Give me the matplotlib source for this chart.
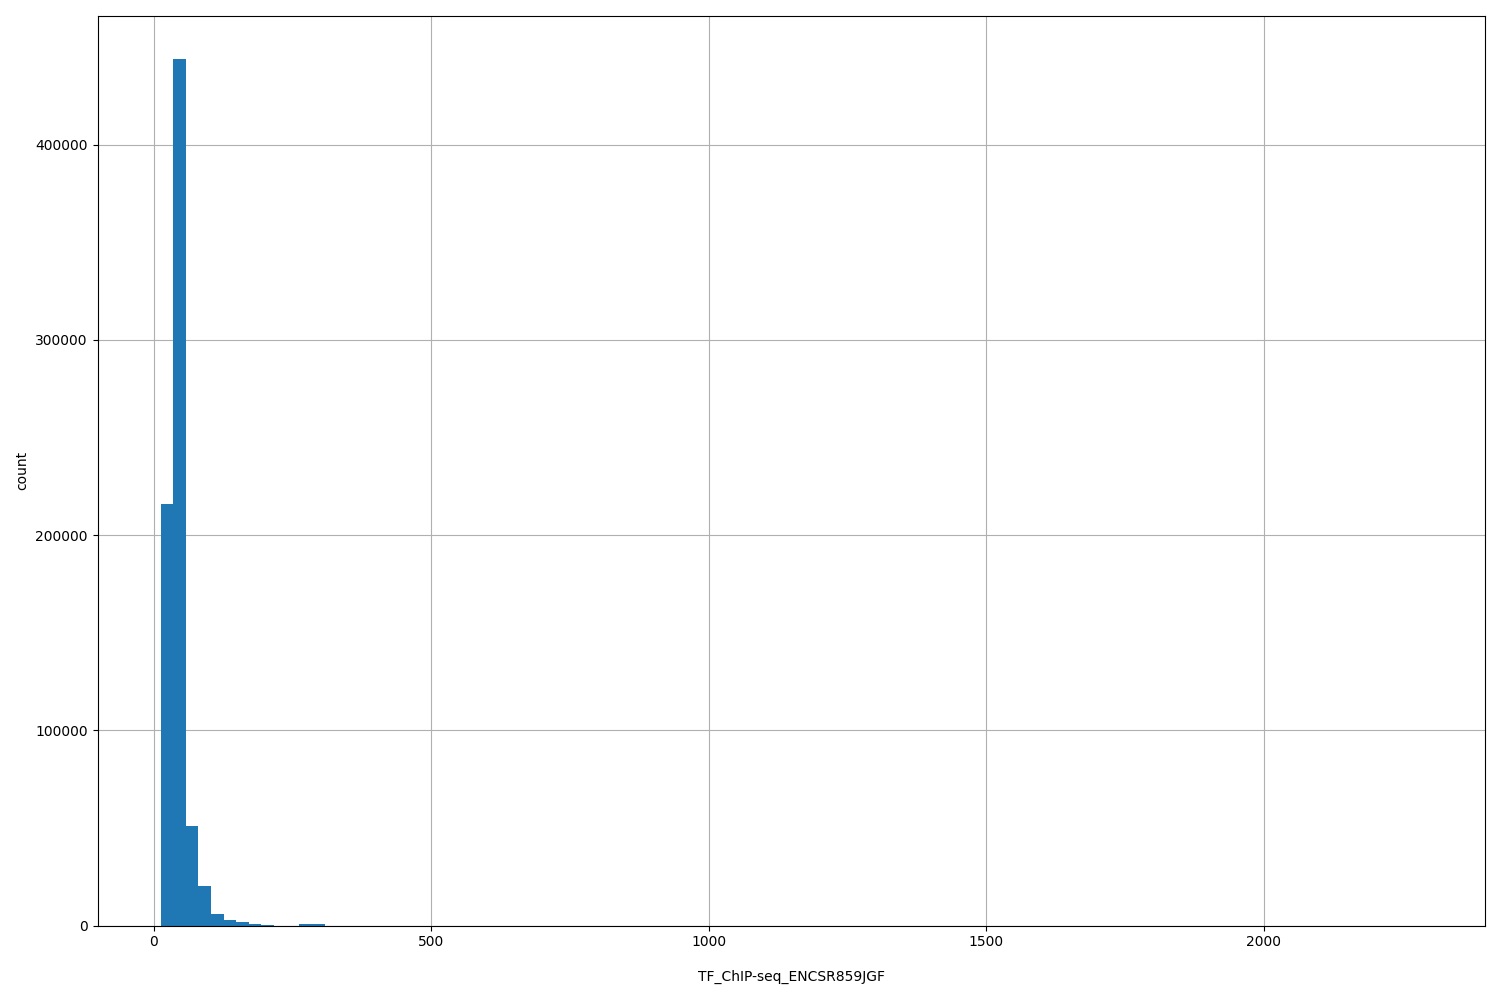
import numpy as np
import matplotlib
matplotlib.use("Agg")
from matplotlib import pyplot as plt

# histogram of peak widths, 100 bins between min and max value
x_min = 12.7
x_max = 2285
n_bins = 100
# counts of the visible bins (the rest are ~0)
first_counts = [216000, 444000, 51000, 20000, 6100, 2600, 2000, 1000, 500, 0,
                0, 700, 700]
tail_counts = [0] * (n_bins - len(first_counts))
counts = first_counts + tail_counts

x_label = "TF_ChIP-seq_ENCSR859JGF"
y_label = "count"

edges = np.linspace(x_min, x_max, n_bins + 1)

fig, ax = plt.subplots(figsize=(15, 10), dpi=100)
fig.subplots_adjust(left=0.065, right=0.99, top=0.9845, bottom=0.0745)
ax.hist(edges[:-1], bins=edges, weights=counts, color="#1f77b4")
ax.grid(True)
ax.set_axisbelow(True)
ax.set_xlabel(x_label, labelpad=15)
ax.set_ylabel(y_label)
plt.savefig("out.png")
